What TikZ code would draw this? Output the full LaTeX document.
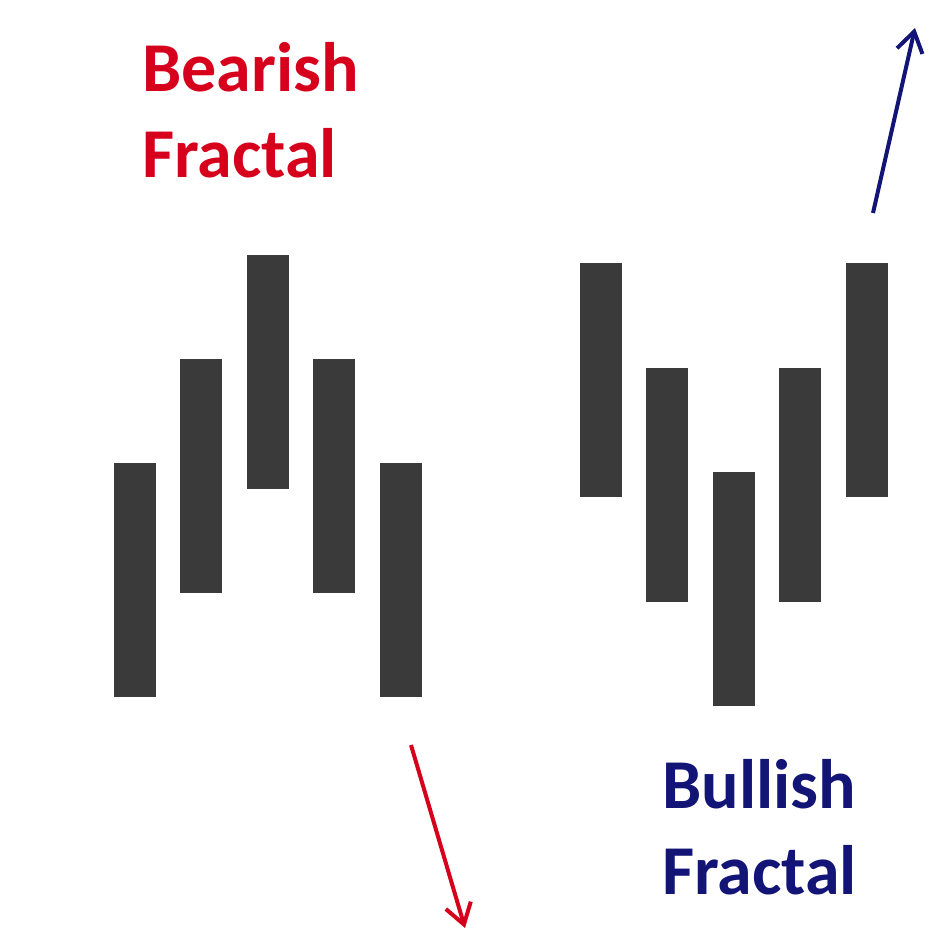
\documentclass[tikz,border=0pt]{standalone}
\usepackage{fontspec}
\setmainfont{Carlito}
\usetikzlibrary{arrows.meta}
\definecolor{bearred}{RGB}{214,0,28}
\definecolor{bullblue}{RGB}{18,20,118}
\definecolor{barcol}{RGB}{58,58,58}
\tikzset{
  bar/.style={fill=barcol, draw=none, inner sep=0pt, minimum width=42pt, minimum height=234pt},
  lbl/.style={font=\bfseries\fontsize{70}{86}\selectfont, align=left, inner sep=0pt, anchor=north west},
  trend/.style={line width=4pt, -{Straight Barb[length=20pt,width=26pt,line width=4pt]}}
}
\begin{document}
\begin{tikzpicture}[x=1pt,y=-1pt]
\useasboundingbox (0,0) rectangle (942,935);
% bearish bars
\node[bar] (a1) at (134.5,580) {};
\node[bar] (a2) at (201,475.5) {};
\node[bar] (a3) at (268,372) {};
\node[bar] (a4) at (334,475.5) {};
\node[bar] (a5) at (401,580) {};
% bullish bars
\node[bar] (b1) at (601,380) {};
\node[bar] (b2) at (667,484.5) {};
\node[bar] (b3) at (734,589) {};
\node[bar] (b4) at (800,484.5) {};
\node[bar] (b5) at (867,380) {};
% labels
\node[lbl, text=bearred] (bear) at (142,42) {Bearish\\Fractal};
\node[lbl, text=bullblue] (bull) at (662,759) {Bullish\\Fractal};
% arrows
\coordinate (bs) at (411,745);
\coordinate (be) at (465,928);
\coordinate (us) at (873,213);
\coordinate (ue) at (915,28);
\draw[trend, bearred] (bs) -- (be);
\draw[trend, bullblue] (us) -- (ue);
\end{tikzpicture}
\end{document}
